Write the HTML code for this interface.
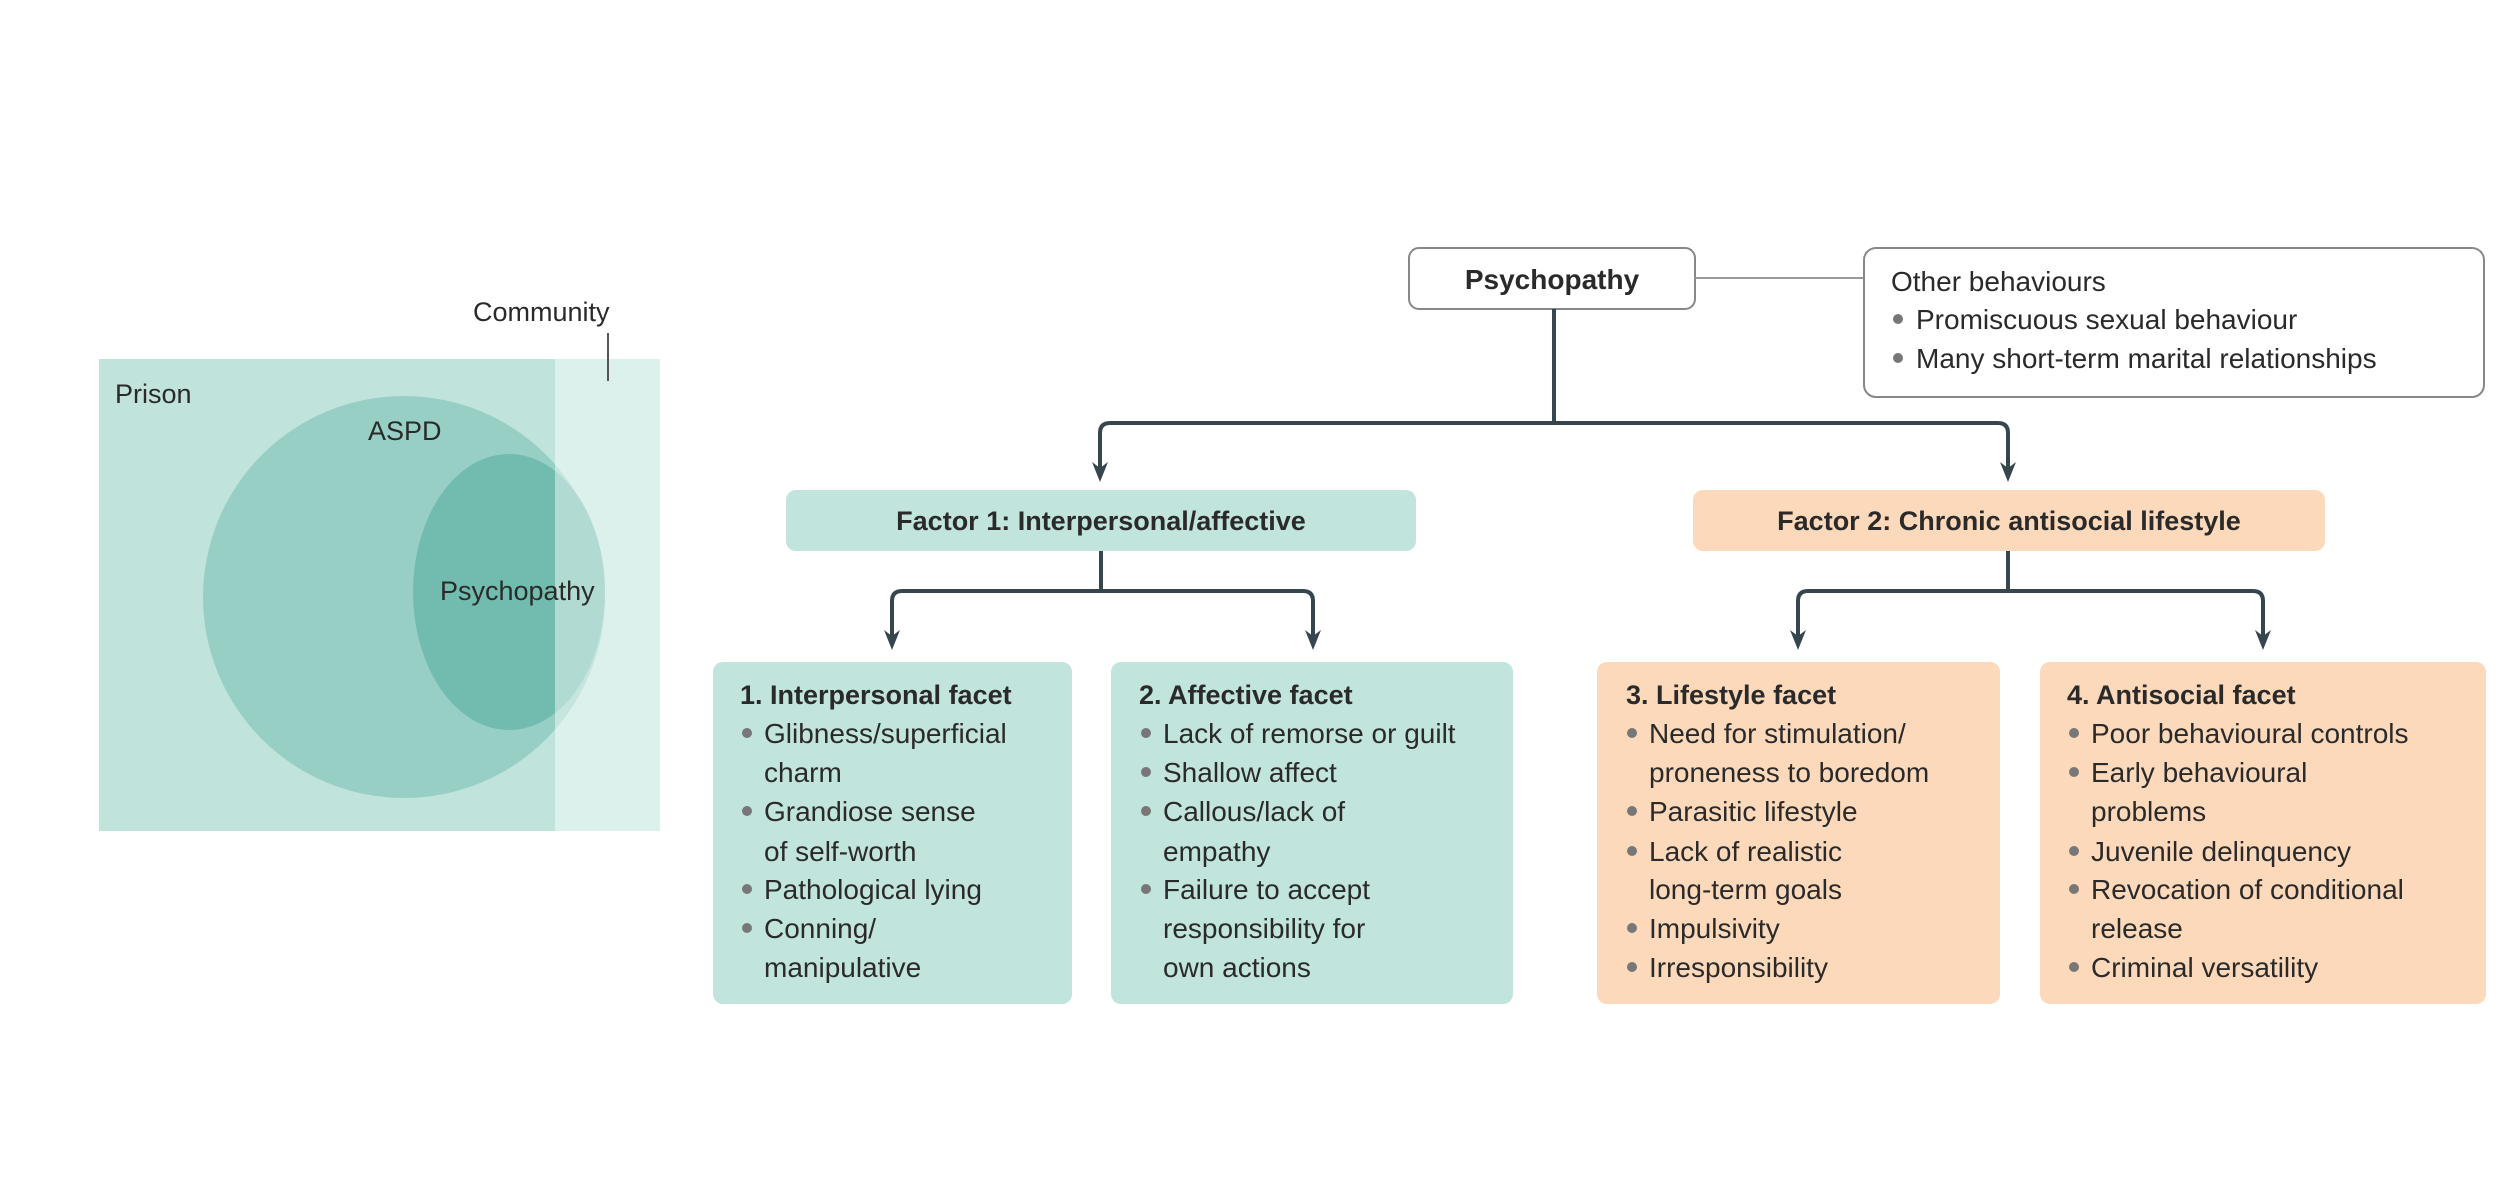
<!DOCTYPE html>
<html><head><meta charset="utf-8"><style>
html,body{margin:0;padding:0;background:#fff;}
svg{display:block;}
text{font-family:"Liberation Sans",sans-serif;fill:#2a2a2a;}
.b{font-weight:bold;}
</style></head><body>
<svg width="2514" height="1198" viewBox="0 0 2514 1198" xmlns="http://www.w3.org/2000/svg">
<!-- Venn -->
<rect x="99" y="359" width="561" height="472" fill="#c0e3dc"/>
<ellipse cx="404" cy="597" rx="201" ry="201" fill="#98cfc4"/>
<ellipse cx="509" cy="592" rx="96" ry="138" fill="#72bcaf"/>
<rect x="555" y="359" width="105" height="472" fill="#fff" fill-opacity="0.45"/>
<text x="473" y="321" font-size="27">Community</text>
<line x1="608" y1="333" x2="608" y2="381" stroke="#555" stroke-width="2"/>
<text x="115" y="403" font-size="27">Prison</text>
<text x="368" y="440" font-size="27">ASPD</text>
<text x="440" y="600" font-size="27">Psychopathy</text>

<!-- top -->
<rect x="1409" y="248" width="286" height="61" rx="10" fill="#fff" stroke="#888" stroke-width="2"/>
<text x="1552" y="289" font-size="28" class="b" text-anchor="middle">Psychopathy</text>
<line x1="1695" y1="278" x2="1864" y2="278" stroke="#999" stroke-width="2"/>
<rect x="1864" y="248" width="620" height="149" rx="12" fill="#fff" stroke="#888" stroke-width="2"/>
<text x="1891" y="291" font-size="28">Other behaviours</text>
<circle cx="1898" cy="319" r="5" fill="#777"/>
<text x="1916" y="329" font-size="28">Promiscuous sexual behaviour</text>
<circle cx="1898" cy="358" r="5" fill="#777"/>
<text x="1916" y="368" font-size="28">Many short-term marital relationships</text>

<g fill="none" stroke="#36464f" stroke-width="4">
<line x1="1554" y1="309" x2="1554" y2="423"/>
<path d="M1100,470 V433 Q1100,423 1110,423 H1998 Q2008,423 2008,433 V470"/>
<line x1="1101" y1="551" x2="1101" y2="591"/>
<path d="M892,638 V601 Q892,591 902,591 H1303 Q1313,591 1313,601 V638"/>
<line x1="2008" y1="551" x2="2008" y2="591"/>
<path d="M1798,638 V601 Q1798,591 1808,591 H2253 Q2263,591 2263,601 V638"/>
</g>
<g fill="#36464f">
<path d="M1092,462 L1100,468 L1108,462 L1100,482 Z"/>
<path d="M2000,462 L2008,468 L2016,462 L2008,482 Z"/>
<path d="M884,630 L892,636 L900,630 L892,650 Z"/>
<path d="M1305,630 L1313,636 L1321,630 L1313,650 Z"/>
<path d="M1790,630 L1798,636 L1806,630 L1798,650 Z"/>
<path d="M2255,630 L2263,636 L2271,630 L2263,650 Z"/>
</g>

<rect x="786" y="490" width="630" height="61" rx="10" fill="#c1e4dd"/>
<text x="1101" y="530" font-size="27" class="b" text-anchor="middle">Factor 1: Interpersonal/affective</text>
<rect x="1693" y="490" width="632" height="61" rx="10" fill="#fcd9ba"/>
<text x="2009" y="530" font-size="27" class="b" text-anchor="middle">Factor 2: Chronic antisocial lifestyle</text>

<!-- facets -->
<rect x="713" y="662" width="359" height="342" rx="10" fill="#c1e4dd"/>
<rect x="1111" y="662" width="402" height="342" rx="10" fill="#c1e4dd"/>
<rect x="1597" y="662" width="403" height="342" rx="10" fill="#fcd9ba"/>
<rect x="2040" y="662" width="446" height="342" rx="10" fill="#fcd9ba"/>

<g font-size="28">
<text x="740" y="704" class="b" font-size="27">1. Interpersonal facet</text>
<text x="764" y="743">Glibness/superficial</text>
<text x="764" y="782">charm</text>
<text x="764" y="821">Grandiose sense</text>
<text x="764" y="861">of self-worth</text>
<text x="764" y="899">Pathological lying</text>
<text x="764" y="938">Conning/</text>
<text x="764" y="977">manipulative</text>

<text x="1139" y="704" class="b" font-size="27">2. Affective facet</text>
<text x="1163" y="743">Lack of remorse or guilt</text>
<text x="1163" y="782">Shallow affect</text>
<text x="1163" y="821">Callous/lack of</text>
<text x="1163" y="861">empathy</text>
<text x="1163" y="899">Failure to accept</text>
<text x="1163" y="938">responsibility for</text>
<text x="1163" y="977">own actions</text>

<text x="1626" y="704" class="b" font-size="27">3. Lifestyle facet</text>
<text x="1649" y="743">Need for stimulation/</text>
<text x="1649" y="782">proneness to boredom</text>
<text x="1649" y="821">Parasitic lifestyle</text>
<text x="1649" y="861">Lack of realistic</text>
<text x="1649" y="899">long-term goals</text>
<text x="1649" y="938">Impulsivity</text>
<text x="1649" y="977">Irresponsibility</text>

<text x="2067" y="704" class="b" font-size="27">4. Antisocial facet</text>
<text x="2091" y="743">Poor behavioural controls</text>
<text x="2091" y="782">Early behavioural</text>
<text x="2091" y="821">problems</text>
<text x="2091" y="861">Juvenile delinquency</text>
<text x="2091" y="899">Revocation of conditional</text>
<text x="2091" y="938">release</text>
<text x="2091" y="977">Criminal versatility</text>
</g>
<g fill="#777">
<circle cx="747" cy="733" r="5"/><circle cx="747" cy="811" r="5"/><circle cx="747" cy="889" r="5"/><circle cx="747" cy="928" r="5"/>
<circle cx="1146" cy="733" r="5"/><circle cx="1146" cy="772" r="5"/><circle cx="1146" cy="811" r="5"/><circle cx="1146" cy="889" r="5"/>
<circle cx="1632" cy="733" r="5"/><circle cx="1632" cy="811" r="5"/><circle cx="1632" cy="851" r="5"/><circle cx="1632" cy="928" r="5"/><circle cx="1632" cy="967" r="5"/>
<circle cx="2074" cy="733" r="5"/><circle cx="2074" cy="772" r="5"/><circle cx="2074" cy="851" r="5"/><circle cx="2074" cy="889" r="5"/><circle cx="2074" cy="967" r="5"/>
</g>
</svg>
</body></html>
